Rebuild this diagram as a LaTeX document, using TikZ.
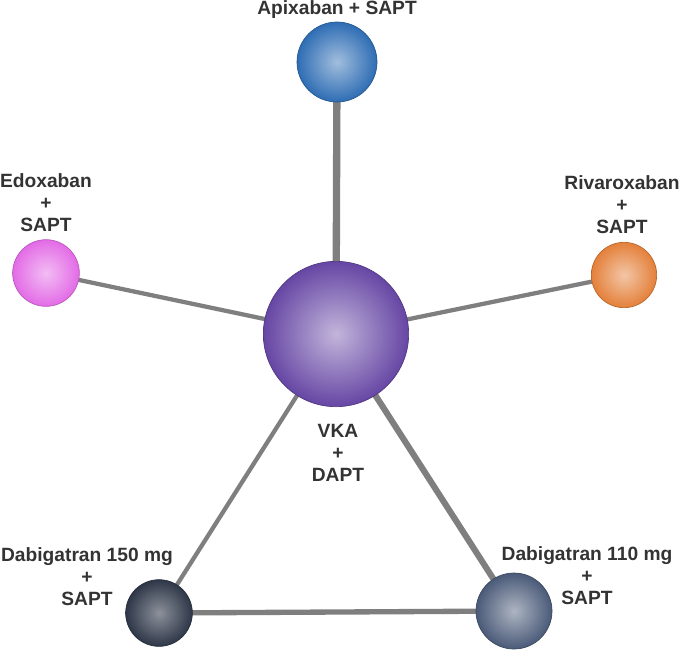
\documentclass[tikz,border=0pt]{standalone}
\usepackage{fontspec}
\setmainfont{Liberation Sans}
\usetikzlibrary{backgrounds}
\definecolor{lbl}{HTML}{333333}
\definecolor{edge}{HTML}{7F7F7F}
\tikzset{
  ball/.style 2 args={circle, inner sep=0pt, minimum size=#1, draw=#2!80!black, line width=0.5pt},
  lab/.style={align=center, text=lbl, font=\bfseries\fontsize{14.4}{16.5}\selectfont, inner sep=0pt},
  link/.style={draw=edge, line width=#1},
}
\begin{document}
\begin{tikzpicture}[x=0.75pt,y=-0.75pt]
\useasboundingbox (0,0) rectangle (680,651);
\definecolor{cApi}{HTML}{2E6DB4}
\definecolor{cEdo}{HTML}{E36BE6}
\definecolor{cRiv}{HTML}{E4803A}
\definecolor{cVka}{HTML}{6646A4}
\definecolor{cD15}{HTML}{2E3748}
\definecolor{cD11}{HTML}{4A5A78}
\node[ball={60pt}{cApi}, inner color=cApi!45!white, outer color=cApi] (api) at (337,62) {};
\node[ball={50pt}{cEdo}, inner color=cEdo!45!white, outer color=cEdo] (edo) at (46,273) {};
\node[ball={49pt}{cRiv}, inner color=cRiv!45!white, outer color=cRiv] (riv) at (624,275) {};
\node[ball={109pt}{cVka}, inner color=cVka!40!white, outer color=cVka] (vka) at (336,334) {};
\node[ball={50pt}{cD15}, inner color=cD15!55!white, outer color=cD15] (d15) at (159,613) {};
\node[ball={57pt}{cD11}, inner color=cD11!45!white, outer color=cD11] (d11) at (514,611) {};
\begin{pgfonlayer}{background}
\draw[link=5.5pt] (api.center) -- (vka.center);
\draw[link=3.2pt] (edo.center) -- (vka.center);
\draw[link=3.2pt] (riv.center) -- (vka.center);
\draw[link=3.2pt] (vka.center) -- (d15.center);
\draw[link=4.6pt] (vka.center) -- (d11.center);
\draw[link=4pt] (d15.center) -- (d11.center);
\end{pgfonlayer}
\node[lab] (lapi) at (337,10) {Apixaban + SAPT};
\node[lab] (ledo) at (46,203) {Edoxaban\\+\\SAPT};
\node[lab] (lriv) at (622,205) {Rivaroxaban\\+\\SAPT};
\node[lab] (lvka) at (338,453) {VKA\\+\\DAPT};
\node[lab] (ld15) at (87,577) {Dabigatran 150 mg\\+\\SAPT};
\node[lab] (ld11) at (587,576) {Dabigatran 110 mg\\+\\SAPT};
\end{tikzpicture}
\end{document}
